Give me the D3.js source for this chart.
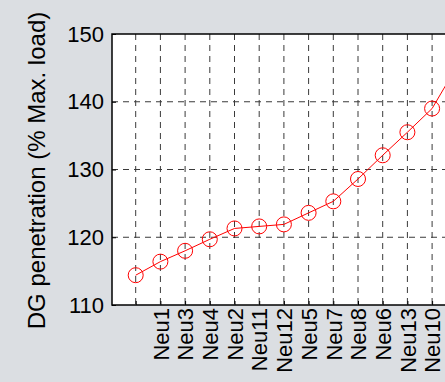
<!DOCTYPE html>
<html>
<head>
<meta charset="utf-8">
<script src="https://cdn.jsdelivr.net/npm/d3@7/dist/d3.min.js"></script>
<style>
  html, body { margin: 0; padding: 0; overflow: hidden; background: #dbdee2; }
  svg { display: block; }
  text { font-family: "Liberation Sans", Arial, Helvetica, sans-serif; fill: #000; }
</style>
</head>
<body>
<script>
// Ordered neutral cases (first entry is the reference case, unlabelled)
const categories = ["", "Neu1", "Neu3", "Neu4", "Neu2", "Neu11", "Neu12", "Neu5", "Neu7", "Neu8", "Neu6", "Neu13", "Neu10", "Neu9"];
// DG penetration, % of maximum load
const penetration = [114.4, 116.4, 118.0, 119.7, 121.3, 121.6, 121.9, 123.6, 125.3, 128.6, 132.1, 135.5, 139.0, 145.2];
const yTicks = [110, 120, 130, 140, 150];

const W = 480, H = 382;
const plotLeft = 112, plotTop = 34, plotBottom = 305;
const firstX = 135.7, step = 24.7;

const svg = d3.select("body").append("svg").attr("width", W).attr("height", H);

const x = d3.scaleLinear()
  .domain([0, categories.length - 1])
  .range([firstX, firstX + step * (categories.length - 1)]);
const y = d3.scaleLinear().domain([110, 150]).range([plotBottom, plotTop]);
const plotRight = x(categories.length - 1) + step;

// plot area
svg.append("rect")
  .attr("x", plotLeft).attr("y", plotTop)
  .attr("width", plotRight - plotLeft).attr("height", plotBottom - plotTop)
  .attr("fill", "#fff");

// grid
const grid = svg.append("g")
  .attr("stroke", "#3a3a3a").attr("stroke-width", 1)
  .attr("stroke-dasharray", "6,5").attr("fill", "none");
grid.selectAll("line.v").data(categories).join("line")
  .attr("class", "v")
  .attr("x1", (d, i) => x(i)).attr("x2", (d, i) => x(i))
  .attr("y1", plotTop).attr("y2", plotBottom);
grid.selectAll("line.h").data(yTicks.slice(1, -1)).join("line")
  .attr("class", "h")
  .attr("x1", plotLeft).attr("x2", plotRight)
  .attr("y1", d => y(d)).attr("y2", d => y(d));

// axes
const yAxis = d3.axisLeft(y).tickValues(yTicks).tickSize(-4).tickPadding(8).tickFormat(d3.format("d"));
const gy = svg.append("g").attr("transform", `translate(${plotLeft},0)`).call(yAxis);
gy.select(".domain").remove();
gy.selectAll("text").attr("font-size", 22);
gy.selectAll("line").attr("stroke", "#000");

const xAxis = d3.axisBottom(x).tickValues(d3.range(categories.length))
  .tickSize(-4).tickFormat(i => categories[i]);
const gx = svg.append("g").attr("transform", `translate(0,${plotBottom})`).call(xAxis);
gx.select(".domain").remove();
gx.selectAll("line").attr("stroke", "#000");
gx.selectAll("text")
  .attr("font-size", 22)
  .attr("text-anchor", "end")
  .attr("transform", "rotate(-90)")
  .attr("x", -3).attr("y", 0).attr("dy", "0.35em");

// box
svg.append("rect")
  .attr("x", plotLeft).attr("y", plotTop)
  .attr("width", plotRight - plotLeft).attr("height", plotBottom - plotTop)
  .attr("fill", "none").attr("stroke", "#000").attr("stroke-width", 1.5);

// series
const line = d3.line().x((d, i) => x(i)).y(d => y(d));
svg.append("path").datum(penetration)
  .attr("d", line).attr("fill", "none")
  .attr("stroke", "#ff0000").attr("stroke-width", 1);
svg.selectAll("circle.m").data(penetration).join("circle")
  .attr("class", "m")
  .attr("cx", (d, i) => x(i)).attr("cy", d => y(d)).attr("r", 7.5)
  .attr("fill", "none").attr("stroke", "#ff0000").attr("stroke-width", 1);

// y label
svg.append("text")
  .attr("transform", `translate(45,${(plotTop + plotBottom) / 2 + 1}) rotate(-90)`)
  .attr("text-anchor", "middle")
  .attr("font-size", 24)
  .text("DG penetration (% Max. load)");
</script>
</body>
</html>
